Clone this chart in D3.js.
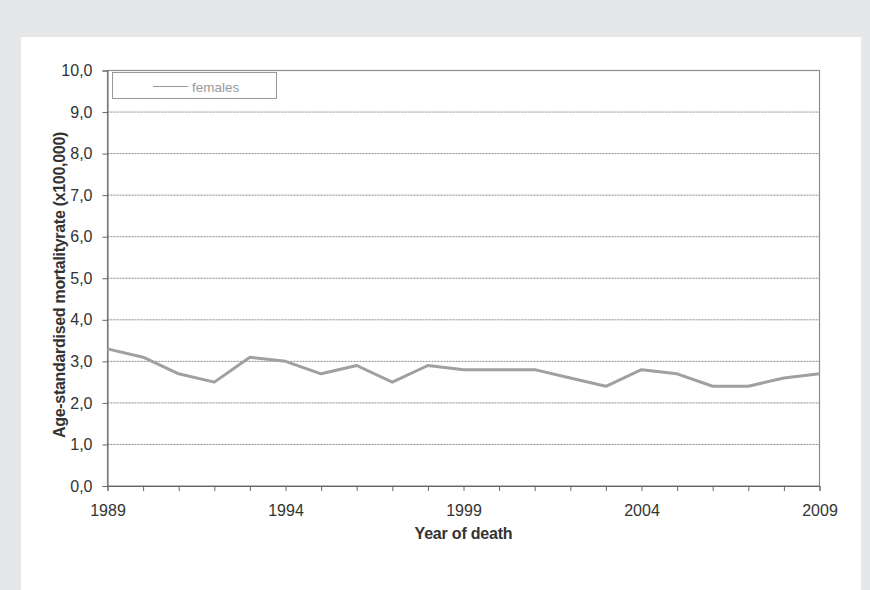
<!DOCTYPE html>
<html><head><meta charset="utf-8">
<script src="https://cdn.jsdelivr.net/npm/d3@7"></script>
<style>body{margin:0;background:#e6e7e8;}svg{display:block;}</style>
</head><body>
<svg id="c" width="870" height="590"></svg>
<script>
const years = [1989,1990,1991,1992,1993,1994,1995,1996,1997,1998,1999,2000,2001,2002,2003,2004,2005,2006,2007,2008,2009];
const females = [3.3,3.1,2.7,2.5,3.1,3.0,2.7,2.9,2.5,2.9,2.8,2.8,2.8,2.6,2.4,2.8,2.7,2.4,2.4,2.6,2.7];
const yTicks = [0,1,2,3,4,5,6,7,8,9,10];
const xTickLabels = [1989,1994,1999,2004,2009];
const seriesName = "females";

const FF = "Arial, 'Liberation Sans', sans-serif";
const svg = d3.select("#c");
svg.append("rect").attr("x",0).attr("y",0).attr("width",870).attr("height",590).attr("fill","#e6e7e8");
svg.append("rect").attr("x",21).attr("y",37).attr("width",840).attr("height",553).attr("fill","#ffffff");

const L=107.5,R=819.5,T=70.5,B=486;
const x = d3.scaleLinear().domain([1989,2009]).range([L,R]);
const y = d3.scaleLinear().domain([0,10]).range([B,T]);
const fmt = d => d3.format(".1f")(d).replace(".",",");

// gridlines
svg.append("g").selectAll("line").data(yTicks.filter(d=>d>0&&d<10)).join("line")
  .attr("x1",L).attr("x2",R).attr("y1",d=>y(d)).attr("y2",d=>y(d))
  .attr("stroke","#8a8a8a").attr("stroke-width",1).attr("stroke-dasharray","2,1");

// plot border
svg.append("rect").attr("x",L).attr("y",T).attr("width",R-L).attr("height",B-T)
  .attr("fill","none").attr("stroke","#8c8c8c").attr("stroke-width",1.2);

// y axis
const ya = svg.append("g").attr("transform",`translate(${L},0)`)
  .call(d3.axisLeft(y).tickValues(yTicks).tickFormat(fmt).tickSize(5).tickPadding(10));
ya.select(".domain").attr("stroke","#666");
ya.selectAll(".tick line").attr("stroke","#666");
ya.selectAll("text").attr("font-family",FF).attr("font-size",16).attr("fill","#333");

// x axis
const xa = svg.append("g").attr("transform",`translate(0,${B})`)
  .call(d3.axisBottom(x).tickValues(years).tickFormat(d=>xTickLabels.includes(d)?d:"").tickSize(5).tickPadding(14));
xa.select(".domain").attr("stroke","#666");
xa.selectAll(".tick line").attr("stroke","#666");
xa.selectAll("text").attr("font-family",FF).attr("font-size",16).attr("fill","#333");

// line
const line = d3.line().x((d,i)=>x(years[i])).y(d=>y(d));
svg.append("path").datum(females).attr("d",line).attr("fill","none")
  .attr("stroke","#a0a0a0").attr("stroke-width",3).attr("stroke-linejoin","round");

// legend
svg.append("rect").attr("x",112.5).attr("y",72.5).attr("width",164).attr("height",26)
  .attr("fill","#fff").attr("stroke","#999").attr("stroke-width",1);
svg.append("line").attr("x1",153).attr("x2",188).attr("y1",86.5).attr("y2",86.5).attr("stroke","#999").attr("stroke-width",1.2);
svg.append("text").attr("x",192).attr("y",91.5).text(seriesName)
  .attr("font-family",FF).attr("font-size",13.5).attr("fill","#999");

// axis titles
svg.append("text").attr("x",(L+R)/2).attr("y",539).attr("text-anchor","middle")
  .attr("font-family",FF).attr("font-size",16).attr("font-weight","bold")
  .attr("fill","#333").attr("letter-spacing","-0.2").text("Year of death");
svg.append("text").attr("transform",`translate(65,285) rotate(-90)`).attr("text-anchor","middle")
  .attr("font-family",FF).attr("font-size",16).attr("font-weight","bold")
  .attr("fill","#333").attr("letter-spacing","-0.3").text("Age-standardised mortalityrate (x100,000)");
</script>
</body></html>
